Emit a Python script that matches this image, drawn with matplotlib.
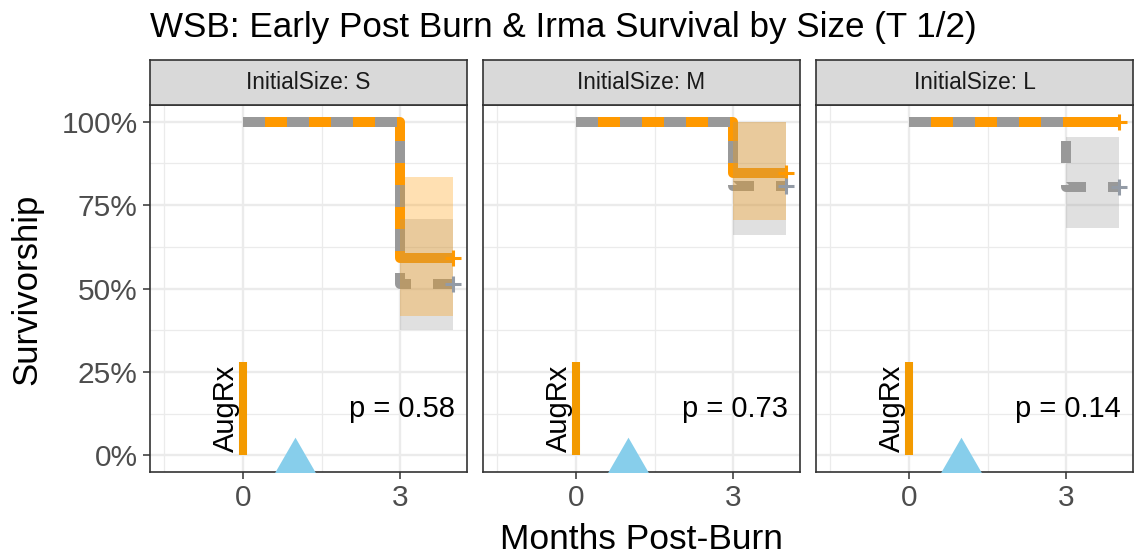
import matplotlib.pyplot as plt
from matplotlib.ticker import FixedLocator, FuncFormatter

plt.rcParams['font.family'] = ['Liberation Sans', 'DejaVu Sans']

# data
panel_sizes = ["S", "M", "L"]
times = [0, 3, 4]

orange_surv = [[1.0, 0.59, 0.59], [1.0, 0.846, 0.846], [1.0, 1.0, 1.0]]
orange_upper = [[1.0, 0.834, 0.834], [1.0, 1.0, 1.0], [1.0, 1.0, 1.0]]
orange_lower = [[1.0, 0.418, 0.418], [1.0, 0.705, 0.705], [1.0, 1.0, 1.0]]

gray_surv = [[1.0, 0.512, 0.512], [1.0, 0.807, 0.807], [1.0, 0.804, 0.804]]
gray_upper = [[1.0, 0.707, 0.707], [1.0, 1.0, 1.0], [1.0, 0.955, 0.955]]
gray_lower = [[1.0, 0.376, 0.376], [1.0, 0.659, 0.659], [1.0, 0.68, 0.68]]

p_values = ["0.58", "0.73", "0.14"]

aug_month = 0
aug_top = 0.28
burn_month = 1
burn_y = -0.055

ORANGE = "#FF9900"
GRAY = "#999999"
W, H = 1138, 556

fig = plt.figure(figsize=(W / 100, H / 100), dpi=100)

panel_left = [150, 483, 816]
panel_w = 317
top_px, bot_px = 105, 472
strip_top = 60

tri = [(0, 1), (-0.866, -0.5), (0.866, -0.5)]

for i, size in enumerate(panel_sizes):
    x0 = panel_left[i]
    ax = fig.add_axes([x0 / W, (H - bot_px) / H, panel_w / W, (bot_px - top_px) / H])
    ax.set_xlim(-1.775, 4.275)
    ax.set_ylim(-0.05, 1.05)

    ax.xaxis.set_major_locator(FixedLocator([0, 3]))
    ax.xaxis.set_minor_locator(FixedLocator([-1.5, 1.5]))
    ax.yaxis.set_major_locator(FixedLocator([0, 0.25, 0.5, 0.75, 1.0]))
    ax.yaxis.set_minor_locator(FixedLocator([0.125, 0.375, 0.625, 0.875]))
    ax.yaxis.set_major_formatter(FuncFormatter(lambda v, p: f"{v * 100:.0f}%"))
    ax.grid(which="major", color="#EBEBEB", linewidth=1.7, zorder=0)
    ax.grid(which="minor", color="#EBEBEB", linewidth=0.9, zorder=0)
    ax.set_axisbelow(True)

    ax.tick_params(which="major", length=5, width=1.1, color="#333333",
                   labelcolor="#4D4D4D", labelsize=21.5, pad=4)
    ax.tick_params(which="minor", length=0)
    if i > 0:
        ax.tick_params(axis="y", which="both", left=False, labelleft=False)
    for sp in ax.spines.values():
        sp.set_color("#333333")
        sp.set_linewidth(1.2)

    # survival curves
    ax.plot(times, orange_surv[i], drawstyle="steps-post", color=ORANGE,
            lw=7.2, solid_joinstyle="round", solid_capstyle="butt", zorder=3)
    ax.plot(times, gray_surv[i], drawstyle="steps-post", color=GRAY,
            lw=7.2, linestyle=(0, (2.2, 2.2)), dash_joinstyle="round",
            dash_capstyle="butt", zorder=4)

    # confidence ribbons on top of the lines
    ax.fill_between(times, gray_lower[i], gray_upper[i], step="post",
                    color=GRAY, alpha=0.3, lw=0, zorder=5)
    ax.fill_between(times, orange_lower[i], orange_upper[i], step="post",
                    color=ORANGE, alpha=0.3, lw=0, zorder=5)

    # censor marks
    ax.plot(times[-1], orange_surv[i][-1], marker="+", ms=12, mew=2.2,
            color=ORANGE, zorder=6)
    ax.plot(times[-1], gray_surv[i][-1], marker="+", ms=12, mew=2.2,
            color="#939BA6", zorder=6)

    # AugRx treatment marker
    ax.vlines(aug_month, 0, aug_top, color="#F39A00", lw=5.8, zorder=6)
    ax.text(aug_month - 0.06, aug_top / 2, "AugRx", rotation=90, ha="right",
            va="center", fontsize=21, color="black", zorder=7)

    # burn marker
    ax.plot(burn_month, burn_y, marker=tri, ms=53, color="#87CEEB",
            mec="none", zorder=6)

    ax.text(4.05, 0.115, f"p = {p_values[i]}", ha="right", va="baseline",
            fontsize=21, color="black", zorder=7)

    # facet strip
    sax = fig.add_axes([x0 / W, (H - top_px) / H, panel_w / W, (top_px - strip_top) / H])
    sax.set_facecolor("#D9D9D9")
    sax.set_xticks([])
    sax.set_yticks([])
    for sp in sax.spines.values():
        sp.set_color("#333333")
        sp.set_linewidth(1.2)
    sax.text(0.5, 0.5, f"InitialSize: {size}", ha="center", va="center",
             fontsize=16.3, color="#1A1A1A", transform=sax.transAxes)

fig.text(150 / W, 1 - 37 / H, "WSB: Early Post Burn & Irma Survival by Size (T 1/2)",
         ha="left", va="baseline", fontsize=25.2)
fig.text(641 / W, 1 - 549 / H, "Months Post-Burn", ha="center", va="baseline",
         fontsize=25.5)
fig.text(27 / W, 1 - 289 / H, "Survivorship", ha="center", va="center",
         rotation=90, fontsize=25)

fig.savefig("out.png", dpi=100)
